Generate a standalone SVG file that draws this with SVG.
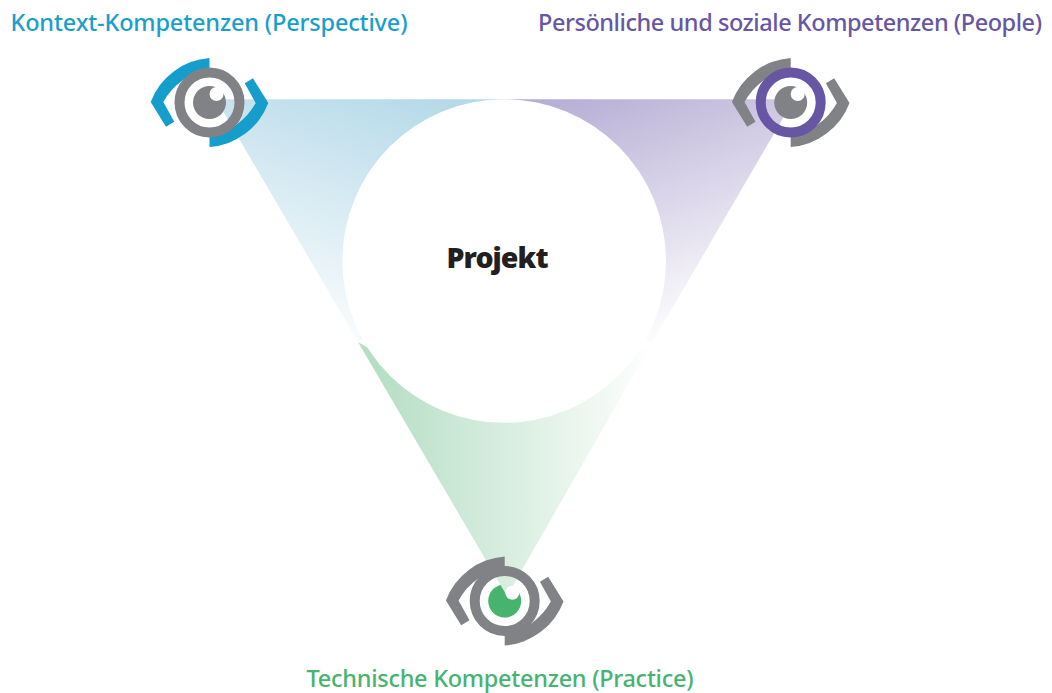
<svg xmlns="http://www.w3.org/2000/svg" width="1052" height="693" viewBox="0 0 1052 693">
  <style>
    text { font-family: "Noto Sans", "Liberation Sans", sans-serif; }
    .label { font-size: 23.5px; font-weight: 500; }
    .title { font-size: 28.5px; font-weight: 900; fill: #231f20; }
    .ring { fill: none; stroke-width: 10; }
    .gray { fill: #808285; }
    .hl { fill: #fff; }
  </style>
  <defs>
    <linearGradient id="gBlue" gradientUnits="userSpaceOnUse" x1="425" y1="85" x2="335" y2="358">
      <stop offset="0" stop-color="#b3d8e8"/><stop offset="1" stop-color="#ffffff"/>
    </linearGradient>
    <linearGradient id="gPurple" gradientUnits="userSpaceOnUse" x1="570" y1="85" x2="670" y2="365">
      <stop offset="0" stop-color="#b5acd4"/><stop offset="0.93" stop-color="#ffffff"/>
    </linearGradient>
    <linearGradient id="gGreen" gradientUnits="userSpaceOnUse" x1="375" y1="450" x2="655" y2="450">
      <stop offset="0" stop-color="#b6dec5"/><stop offset="1" stop-color="#ffffff"/>
    </linearGradient>
    <g id="lids">
      <path d="M0-44.5A68 68 0 0 0-58.8-.5L-43.5 24.2-35.2 19.2-46.2-.5A66 66 0 0 1 0-33.5Z"/>
      <path d="M0 44.5A68 68 0 0 0 58.8 .5L43.5-24.2 35.2-19.2 46.2 .5A66 66 0 0 1 0 33.5Z"/>
    </g>
  </defs>

  <circle id="technical-pupil" cx="504.7" cy="601" r="16.5" fill="#46b36f"/>

  <g id="connectors">
    <polygon points="216,99.3 505,99.3 505,262 358,342" fill="url(#gBlue)"/>
    <polygon points="794,99.3 505,99.3 505,262 652,343" fill="url(#gPurple)"/>
    <polygon points="358,342 375,352 640,352 652,343 507,596" fill="url(#gGreen)"/>
  </g>

  <g id="project">
    <circle cx="504.2" cy="261" r="161.8" fill="#fff"/>
    <text class="title" x="446.5" y="268.3" textLength="102">Projekt</text>
  </g>

  <g id="context">
    <use href="#lids" x="209.5" y="102.5" fill="#159dcb"/>
    <circle class="ring" cx="209.5" cy="102.5" r="30" stroke="#808285"/>
    <circle class="gray" cx="209.5" cy="102.5" r="16.5"/>
    <circle class="hl" cx="216.5" cy="94" r="7"/>
    <text class="label" x="10.5" y="30.7" textLength="397" fill="#1a9ecb">Kontext-Kompetenzen (Perspective)</text>
  </g>

  <g id="people">
    <use href="#lids" x="790.7" y="102.5" fill="#808285"/>
    <circle class="ring" cx="790.7" cy="102.5" r="30" stroke="#6756a3"/>
    <circle class="gray" cx="790.7" cy="102.5" r="16.5"/>
    <circle class="hl" cx="797.7" cy="94" r="7"/>
    <text class="label" x="538" y="30.7" textLength="504" fill="#6756a3">Persönliche und soziale Kompetenzen (People)</text>
  </g>

  <g id="technical">
    <use href="#lids" x="504.7" y="601" fill="#808285"/>
    <circle class="ring" cx="504.7" cy="601" r="30" stroke="#808285"/>
    <circle class="hl" cx="512.3" cy="592.7" r="7"/>
    <text class="label" x="306.5" y="687" textLength="387" fill="#46b36f">Technische Kompetenzen (Practice)</text>
  </g>
</svg>
